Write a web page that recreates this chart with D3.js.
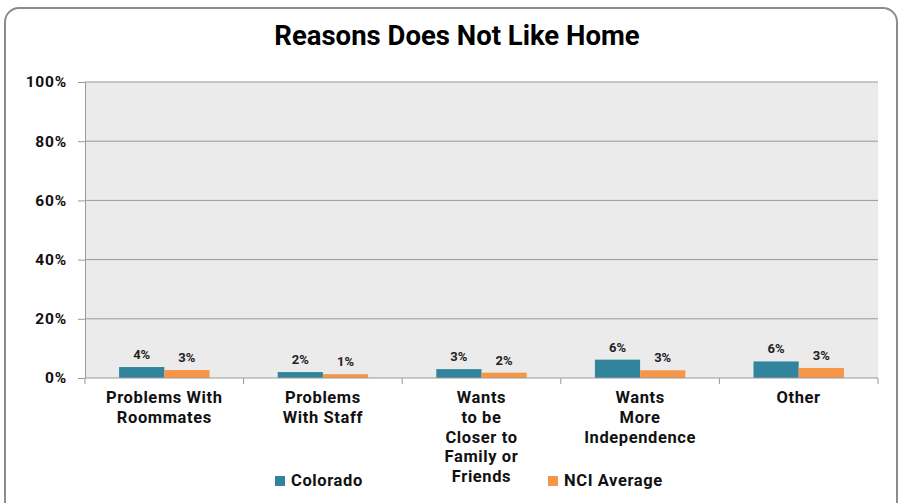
<!DOCTYPE html>
<html><head><meta charset="utf-8">
<script src="https://cdn.jsdelivr.net/npm/d3@7"></script>
<style>body{margin:0;background:#fff;} text{font-family:Roboto, "Open Sans", sans-serif;}</style>
</head><body>
<svg id="c" width="902" height="503"></svg>
<script>
const categories = [["Problems With","Roommates"],["Problems","With Staff"],["Wants","to be","Closer to","Family or","Friends"],["Wants","More","Independence"],["Other"]];
const colorado = [3.7, 2.0, 3.0, 6.2, 5.6];
const nci = [2.7, 1.3, 1.8, 2.6, 3.4];
const seriesNames = ["Colorado","NCI Average"];
const yTicks = [0,20,40,60,80,100];
const colors = ["#31849b","#f79646"];

const svg = d3.select("#c");
svg.append("rect").attr("x",5).attr("y",8).attr("width",892).attr("height",520).attr("rx",14)
  .attr("fill","#fff").attr("stroke","#8c8c8c").attr("stroke-width",2);

const L=85,R=878,T=82,B=378;
const x = d3.scaleBand().domain(d3.range(categories.length)).range([L,R]);
const y = d3.scaleLinear().domain([0,100]).range([B,T]);
const xs = d3.scaleBand().domain([0,1]).range([0, x.bandwidth()*0.57]);

svg.append("rect").attr("x",L).attr("y",T).attr("width",R-L).attr("height",B-T).attr("fill","#ebebeb");

svg.append("g").selectAll("line").data(yTicks.filter(d=>d>0)).join("line")
  .attr("x1",L).attr("x2",R).attr("y1",d=>y(d)).attr("y2",d=>y(d)).attr("stroke","#999").attr("stroke-width",1);

const yAxis = svg.append("g").attr("transform",`translate(${L},0)`)
  .call(d3.axisLeft(y).tickValues(yTicks).tickFormat(d=>d+"%").tickSize(7).tickPadding(11));
yAxis.select(".domain").attr("stroke","#999");
yAxis.selectAll(".tick line").attr("stroke","#999");
yAxis.selectAll("text").attr("font-size",15.5).attr("font-weight","bold").attr("fill","#111").attr("letter-spacing","0.8px");

const series = [colorado, nci];
series.forEach((vals,si)=>{
  const g = svg.append("g");
  vals.forEach((v,i)=>{
    const cx = x(i)+x.bandwidth()/2 - xs.range()[1]/2 + xs(si);
    g.append("rect").attr("x",cx).attr("y",y(v)).attr("width",xs.bandwidth()).attr("height",B-y(v)).attr("fill",colors[si]);
    g.append("text").attr("x",cx+xs.bandwidth()/2).attr("y",y(v)-8).attr("text-anchor","middle")
      .attr("font-size",13).attr("font-weight","bold").attr("fill","#222").text(Math.round(v)+"%");
  });
});

// x axis
svg.append("line").attr("x1",L).attr("x2",R).attr("y1",B).attr("y2",B).attr("stroke","#999");
svg.append("g").selectAll("line").data(d3.range(categories.length+1)).join("line")
  .attr("x1",d=>L+d*x.step()).attr("x2",d=>L+d*x.step()).attr("y1",B).attr("y2",B+6).attr("stroke","#999");

categories.forEach((lines,i)=>{
  const t = svg.append("text").attr("x",x(i)+x.bandwidth()/2).attr("y",403).attr("text-anchor","middle")
    .attr("font-size",16.5).attr("font-weight","bold").attr("fill","#111").attr("letter-spacing","0.6px");
  lines.forEach((l,j)=>t.append("tspan").attr("x",x(i)+x.bandwidth()/2).attr("dy",j?19.75:0).text(l));
});

svg.append("text").attr("x",457).attr("y",45).attr("text-anchor","middle").attr("font-size",27.5)
  .attr("font-weight","bold").attr("fill","#000").text("Reasons Does Not Like Home");

const lx=[275,548];
seriesNames.forEach((n,i)=>{
  svg.append("rect").attr("x",lx[i]).attr("y",476).attr("width",10).attr("height",10).attr("fill",colors[i]);
  svg.append("text").attr("x",lx[i]+16).attr("y",486).attr("font-size",16.5).attr("font-weight","bold").attr("fill","#111").attr("letter-spacing","0.6px").text(n);
});
</script>
</body></html>
